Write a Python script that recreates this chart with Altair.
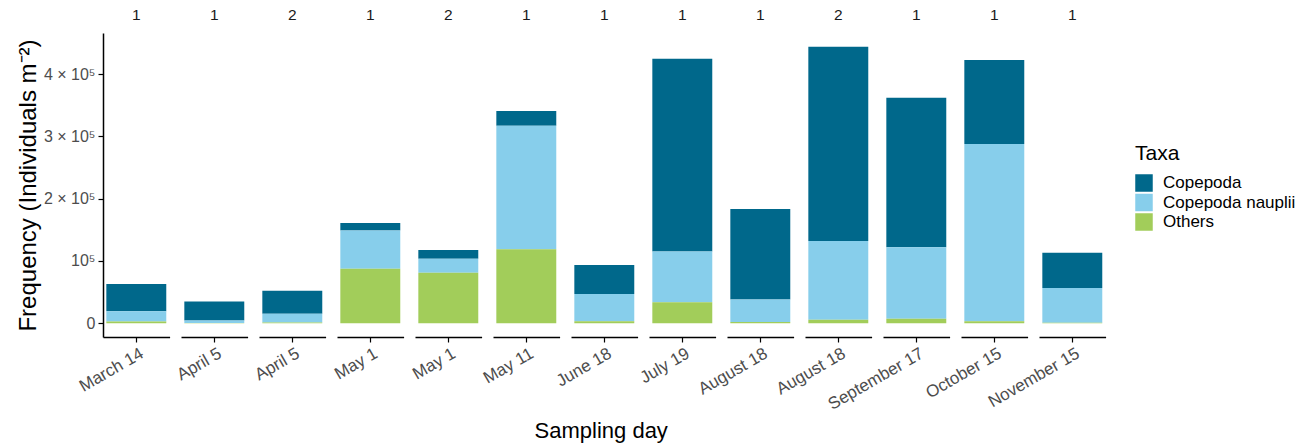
import altair as alt
import pandas as pd

# Sampling days (one panel each) and replicate numbers shown in the strips
days = ["March 14", "April 5", "April 5", "May 1", "May 1", "May 11", "June 18",
        "July 19", "August 18", "August 18", "September 17", "October 15", "November 15"]
replicates = [1, 1, 2, 1, 2, 1, 1, 1, 1, 2, 1, 1, 1]

# Abundance per taxon (individuals per m2)
copepoda = [43800, 30500, 36900, 12000, 14000, 24000, 46500, 310000, 145500, 312000, 240000, 135000, 56500]
nauplii = [16300, 4200, 14300, 61500, 22600, 198400, 44000, 81500, 36000, 126400, 115000, 285000, 56000]
others = [2900, 300, 1000, 87500, 81000, 118600, 3000, 33500, 2000, 5600, 7000, 3000, 500]

taxa = ["Copepoda", "Copepoda nauplii", "Others"]
taxa_colors = ["#00688B", "#87CEEB", "#A2CD5A"]
stack_order = {"Others": 0, "Copepoda nauplii": 1, "Copepoda": 2}

rows = []
for i, (day, rep) in enumerate(zip(days, replicates)):
    for taxon, series in zip(taxa, [copepoda, nauplii, others]):
        rows.append({
            "panel": f"{i:02d}|{rep}",
            "day": day,
            "taxon": taxon,
            "density": series[i],
            "ord": stack_order[taxon],
        })
df = pd.DataFrame(rows)

FONT = "Liberation Sans"

y_label_expr = (
    "datum.value == 0 ? '0' : datum.value == 100000 ? '10\u2075' : "
    "format(datum.value / 100000, 'd') + ' \u00d7 10\u2075'"
)

base = alt.Chart(df).mark_bar().encode(
    x=alt.X("day:N", title=None,
            axis=alt.Axis(labelAngle=-30, labelFontSize=17, labelColor="#4D4D4D",
                          domainColor="black", domainWidth=1.5, tickColor="black",
                          tickWidth=1.2, tickSize=5, labelPadding=3, labelOffset=2,
                          labelFont=FONT)),
    y=alt.Y("density:Q", stack="zero",
            scale=alt.Scale(domain=[-22200, 466200], nice=False, zero=False),
            axis=alt.Axis(values=[0, 100000, 200000, 300000, 400000], labelExpr=y_label_expr,
                          title="Frequency (Individuals m\u207b\u00b2)", titleFontSize=24,
                          titleFontWeight="normal", titleColor="black", titlePadding=3,
                          labelFontSize=16, labelColor="#4D4D4D", domainColor="black",
                          domainWidth=1.5, tickColor="black", tickWidth=1.2, tickSize=5,
                          labelPadding=3, grid=False, labelFont=FONT, titleFont=FONT)),
    color=alt.Color("taxon:N", scale=alt.Scale(domain=taxa, range=taxa_colors),
                    legend=alt.Legend(title="Taxa", titleFontSize=21, titleFontWeight="normal",
                                      titleColor="black", labelFontSize=17, labelColor="black",
                                      symbolType="square", symbolSize=306, symbolStrokeWidth=0,
                                      orient="none", legendX=1032, legendY=110,
                                      rowPadding=1.5, titlePadding=10, labelOffset=10,
                                      labelFont=FONT, titleFont=FONT)),
    order=alt.Order("ord:Q", sort="ascending"),
).properties(width=66.6, height=304)

chart = base.facet(
    column=alt.Column("panel:N", sort="ascending", title=None,
                      header=alt.Header(labelExpr="split(datum.value, '|')[1]",
                                        labelFontSize=15.5, labelColor="#1A1A1A", labelFont=FONT,
                                        labelPadding=10, labelOrient="top")),
    spacing=11,
    bounds="flush",
).resolve_scale(x="independent").configure_view(stroke=None).properties(
    title=alt.TitleParams(text="Sampling day", orient="bottom", anchor="middle", dx=-55,
                          offset=9, fontSize=22, font=FONT, fontWeight="normal", color="black"),
    padding={"left": 16, "top": 7, "right": 5, "bottom": 5}, background="white"
)

chart.save("out.html", embed_options={"renderer": "svg", "actions": False})
